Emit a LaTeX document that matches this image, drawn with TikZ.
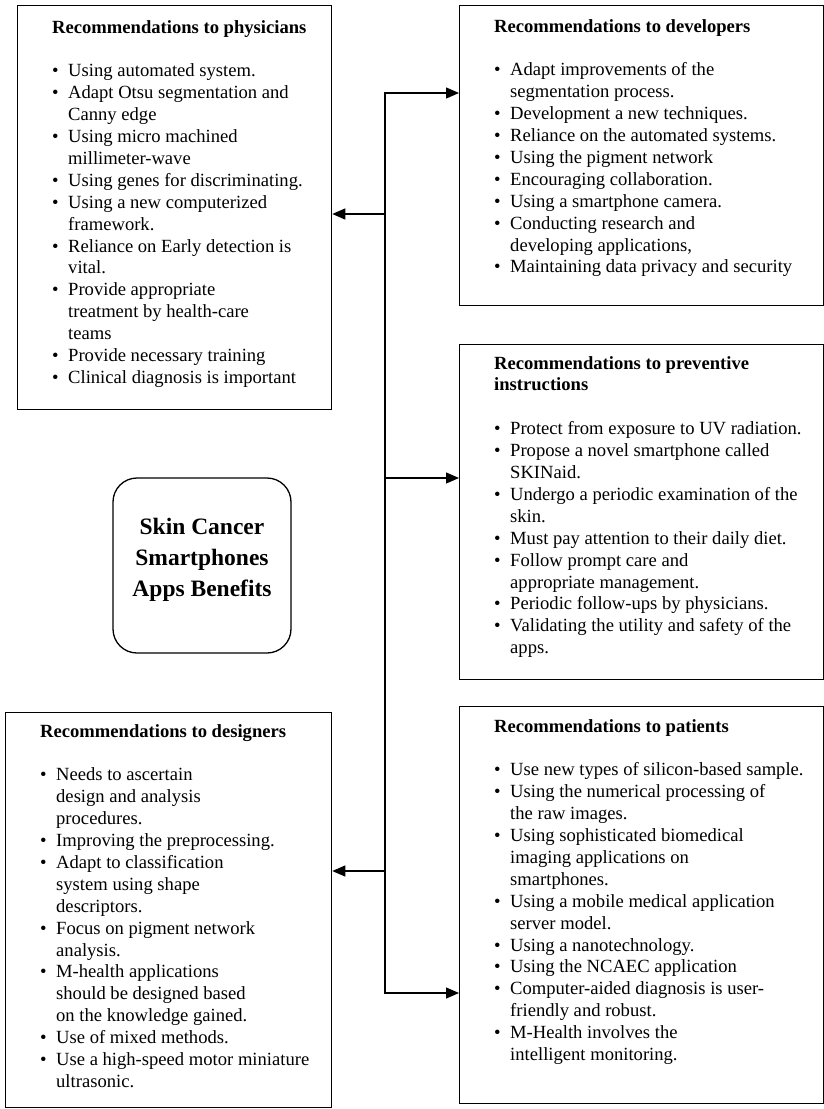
\documentclass[tikz,border=0pt]{standalone}
\usepackage{fontspec}
\setmainfont{Liberation Serif}
\usetikzlibrary{arrows.meta}
\newcommand{\bl}{\makebox[16pt][l]{\textbullet}}
\newcommand{\nb}{\hspace*{16pt}}
\newcommand{\bodyfont}{\fontsize{18.6pt}{21.9pt}\selectfont}
\newcommand{\hubfont}{\fontsize{23.5pt}{31pt}\selectfont\bfseries}
\begin{document}
\begin{tikzpicture}[x=1pt,y=-1pt,
  frame/.style={draw, line width=1.3pt, inner sep=0pt, anchor=north west},
  txt/.style={anchor=base west, inner sep=0pt, font=\bodyfont},
  conn/.style={line width=1.3pt, -{Triangle[length=13pt,width=11pt]}},
  trunk/.style={line width=1.3pt, line cap=rect}]
\useasboundingbox (0,0) rectangle (824,1109);

% boxes
\node[frame, minimum width=314pt, minimum height=404pt] (phys) at (17,5) {};
\node[frame, minimum width=364pt, minimum height=300pt] (dev) at (459,5) {};
\node[frame, minimum width=364pt, minimum height=335pt] (prev) at (459,344) {};
\node[frame, minimum width=364pt, minimum height=397pt] (pat) at (459,706) {};
\node[frame, minimum width=326pt, minimum height=395pt] (des) at (5,712) {};
\node[draw, line width=1.3pt, rounded corners=24pt, minimum width=178pt, minimum height=175pt, inner sep=0pt] (hub) at (202,565.5) {};

% hub text
\node[anchor=base, inner sep=0pt, font=\hubfont] (hubT) at (202,534) {\begin{tabular}[t]{@{}c@{}}
Skin Cancer\\
Smartphones\\
Apps Benefits
\end{tabular}};

% physicians
\node[txt] (physT) at (52,33) {\begin{tabular}[t]{@{}l@{}}
\textbf{Recommendations to physicians}\\
\\
\bl Using automated system.\\
\bl Adapt Otsu segmentation and\\
\nb Canny edge\\
\bl Using micro machined\\
\nb millimeter-wave\\
\bl Using genes for discriminating.\\
\bl Using a new computerized\\
\nb framework.\\
\bl Reliance on Early detection is\\
\nb vital.\\
\bl Provide appropriate\\
\nb treatment by health-care\\
\nb teams\\
\bl Provide necessary training\\
\bl Clinical diagnosis is important
\end{tabular}};

% developers
\node[txt] (devT) at (494,32) {\begin{tabular}[t]{@{}l@{}}
\textbf{Recommendations to developers}\\
\\
\bl Adapt improvements of the\\
\nb segmentation process.\\
\bl Development a new techniques.\\
\bl Reliance on the automated systems.\\
\bl Using the pigment network\\
\bl Encouraging collaboration.\\
\bl Using a smartphone camera.\\
\bl Conducting research and\\
\nb developing applications,\\
\bl Maintaining data privacy and security
\end{tabular}};

% preventive
\node[txt] (prevT) at (494,369) {\begin{tabular}[t]{@{}l@{}}
\textbf{Recommendations to preventive}\\
\textbf{instructions}\\
\\
\bl Protect from exposure to UV radiation.\\
\bl Propose a novel smartphone called\\
\nb SKINaid.\\
\bl Undergo a periodic examination of the\\
\nb skin.\\
\bl Must pay attention to their daily diet.\\
\bl Follow prompt care and\\
\nb appropriate management.\\
\bl Periodic follow-ups by physicians.\\
\bl Validating the utility and safety of the\\
\nb apps.
\end{tabular}};

% patients
\node[txt] (patT) at (494,732) {\begin{tabular}[t]{@{}l@{}}
\textbf{Recommendations to patients}\\
\\
\bl Use new types of silicon-based sample.\\
\bl Using the numerical processing of\\
\nb the raw images.\\
\bl Using sophisticated biomedical\\
\nb imaging applications on\\
\nb smartphones.\\
\bl Using a mobile medical application\\
\nb server model.\\
\bl Using a nanotechnology.\\
\bl Using the NCAEC application\\
\bl Computer-aided diagnosis is user-\\
\nb friendly and robust.\\
\bl M-Health involves the\\
\nb intelligent monitoring.
\end{tabular}};

% designers
\node[txt] (desT) at (40,737) {\begin{tabular}[t]{@{}l@{}}
\textbf{Recommendations to designers}\\
\\
\bl Needs to ascertain\\
\nb design and analysis\\
\nb procedures.\\
\bl Improving the preprocessing.\\
\bl Adapt to classification\\
\nb system using shape\\
\nb descriptors.\\
\bl Focus on pigment network\\
\nb analysis.\\
\bl M-health applications\\
\nb should be designed based\\
\nb on the knowledge gained.\\
\bl Use of mixed methods.\\
\bl Use a high-speed motor miniature\\
\nb ultrasonic.
\end{tabular}};

% connectors
\coordinate (jTop) at (385,93);
\coordinate (jPhys) at (385,214);
\coordinate (jPrev) at (385,478);
\coordinate (jDes) at (385,871);
\coordinate (jBot) at (385,993);
\draw[trunk] (jTop) -- (jBot);
\draw[conn] (jTop) -- (jTop -| dev.west);
\draw[conn] (jPhys) -- (jPhys -| phys.east);
\draw[conn] (jPrev) -- (jPrev -| prev.west);
\draw[conn] (jDes) -- (jDes -| des.east);
\draw[conn] (jBot) -- (jBot -| pat.west);
\end{tikzpicture}
\end{document}
